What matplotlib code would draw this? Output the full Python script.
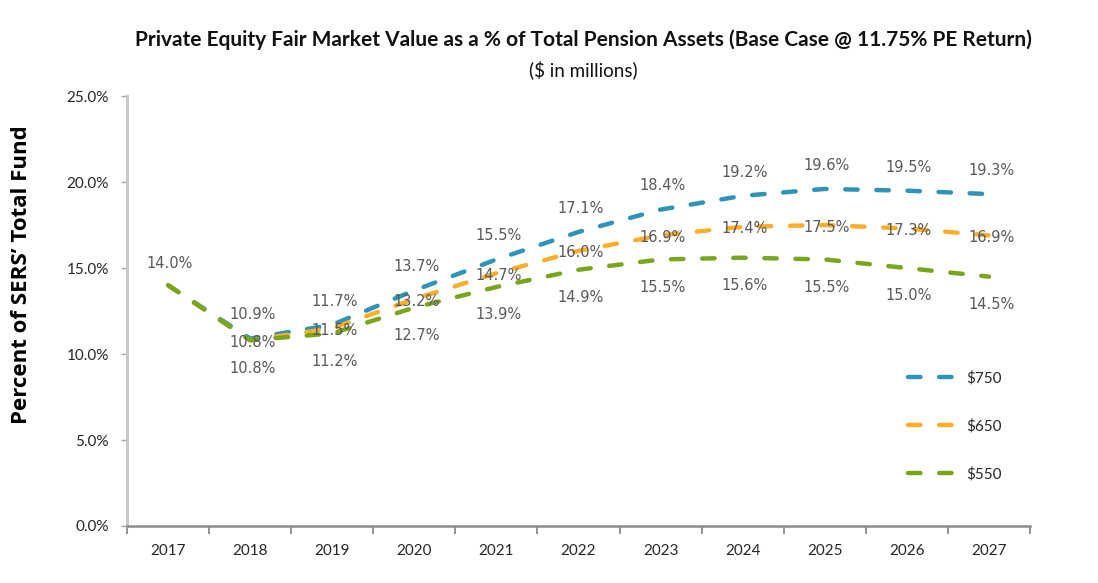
import matplotlib
matplotlib.use("Agg")
import matplotlib.pyplot as plt
from matplotlib.ticker import PercentFormatter

years = ["2017", "2018", "2019", "2020", "2021", "2022", "2023", "2024", "2025", "2026", "2027"]
pe_750 = [14.0, 10.9, 11.7, 13.7, 15.5, 17.1, 18.4, 19.2, 19.6, 19.5, 19.3]
pe_650 = [14.0, 10.8, 11.5, 13.2, 14.7, 16.0, 16.9, 17.4, 17.5, 17.3, 16.9]
pe_550 = [14.0, 10.8, 11.2, 12.7, 13.9, 14.9, 15.5, 15.6, 15.5, 15.0, 14.5]
series_names = ["$750", "$650", "$550"]

colors = ["#2E95B8", "#FBAE2C", "#7AA51C"]
# label offset in points (vertical) for each series
label_dy = [17, -1.5, -20]

fig = plt.figure(figsize=(10.98, 5.83), dpi=100)
ax = fig.add_axes([0.1157, 0.0978, 0.8224, 0.7374])

x = list(range(len(years)))
for vals, name, col, dy in zip([pe_750, pe_650, pe_550], series_names, colors, label_dy):
    ln, = ax.plot(x, vals, color=col, lw=3.2, label=name.replace("$", r"\$"),
                  dash_capstyle="round", solid_capstyle="round")
    ln.set_dashes([2.8, 4.2])
    for i, v in enumerate(vals):
        if i == 0:
            continue
        ax.annotate(f"{v:.1f}%", (i, v), xytext=(1.5, dy), textcoords="offset points",
                    ha="center", va="center", fontsize=10.5, color="#595959",
                    family="DejaVu Sans")

# 2017 shared starting point, single label
ax.annotate(f"{pe_550[0]:.1f}%", (0, pe_550[0]), xytext=(1, 16), textcoords="offset points",
            ha="center", va="center", fontsize=10.5, color="#595959", family="DejaVu Sans")

ax.set_xlim(-0.5, len(years) - 0.5)
ax.set_ylim(0, 25)
ax.set_yticks([0, 5, 10, 15, 20, 25])
ax.yaxis.set_major_formatter(PercentFormatter(decimals=1))
ax.set_xticks(x)
ax.set_xticklabels(years)
ax.set_xticks([i - 0.5 for i in range(len(years) + 1)], minor=True)

ax.tick_params(axis="x", which="major", length=0, pad=13, labelsize=11, labelcolor="#262626")
ax.tick_params(axis="x", which="minor", length=6, width=1.2, color="#808080", direction="out")
ax.tick_params(axis="y", length=4, width=1, color="#A6A6A6", pad=9, labelsize=11,
               labelcolor="#262626")
for lab in ax.get_xticklabels() + ax.get_yticklabels():
    lab.set_family("Lato")

for s in ["top", "right"]:
    ax.spines[s].set_visible(False)
ax.spines["left"].set_color("#C8C8C8")
ax.spines["left"].set_linewidth(2.2)
ax.spines["bottom"].set_color("#8C8C8C")
ax.spines["bottom"].set_linewidth(1.8)

leg = ax.legend(loc="upper left", bbox_to_anchor=(894 / 1098, 1 - 357 / 583),
                bbox_transform=fig.transFigure, frameon=False, handlelength=3.2,
                labelspacing=2.2, handletextpad=0.6, prop={"family": "Lato", "size": 11})
for t in leg.get_texts():
    t.set_color("#262626")

fig.text(583 / 1098, 1 - 40 / 583,
         "Private Equity Fair Market Value as a % of Total Pension Assets (Base Case @ 11.75% PE Return)",
         ha="center", va="center", fontsize=15, fontweight="bold", family="Lato", color="#111111")
fig.text(583 / 1098, 1 - 70 / 583, "($ in millions)", ha="center", va="center",
         fontsize=13.5, family="Lato", color="#111111")
fig.text(22 / 1098, 1 - 275 / 583, "Percent of SERS\u2019 Total Fund", rotation=90,
         ha="center", va="center", fontsize=16, fontweight="bold", family="Open Sans",
         color="#000000")

fig.savefig("out.png", dpi=100, facecolor="white")
